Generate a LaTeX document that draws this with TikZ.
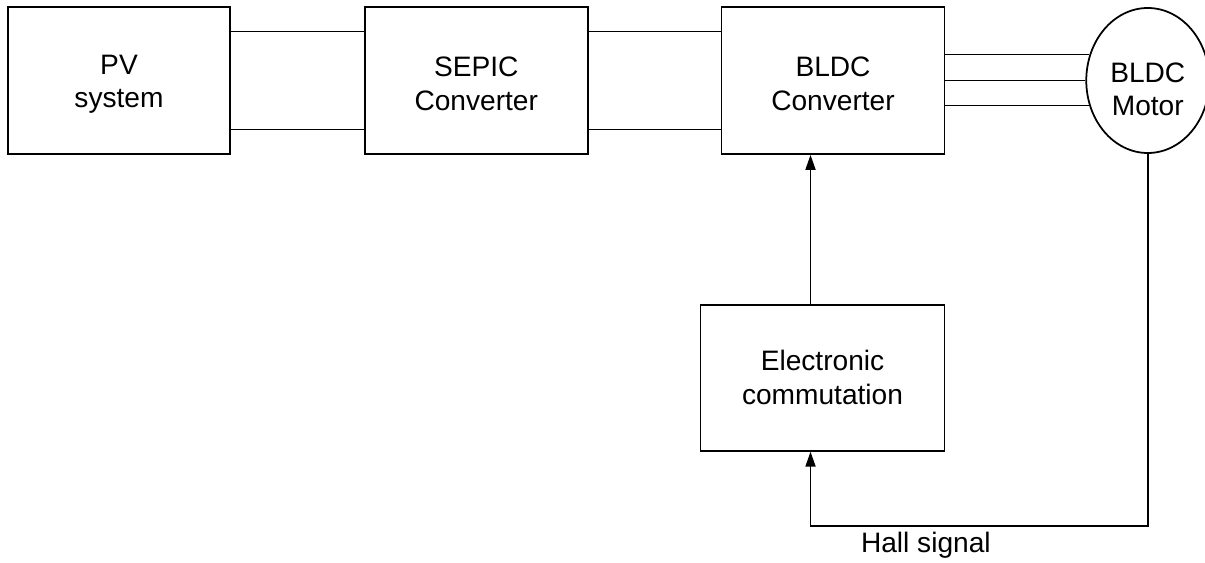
\documentclass[tikz,border=0pt]{standalone}
\usepackage{fontspec}
\setmainfont{Liberation Sans}
\usetikzlibrary{shapes.geometric,arrows.meta,positioning,calc}
\tikzset{
    textpos/.style 2 args={execute at begin node={\rule[-#2]{0pt}{\dimexpr#1+#2\relax}}},
    block/.style={
        rectangle, draw=black, line width=1pt,
        minimum width=4.46cm, minimum height=2.94cm,
        align=center, font=\fontsize{16}{19}\selectfont, textpos={34pt}{0pt}
    },
    machine/.style={
        ellipse, draw=black, line width=1pt, inner sep=0pt,
        minimum width=2.46cm, minimum height=2.9cm,
        align=center, font=\fontsize{16}{19}\selectfont, textpos={40.5pt}{0pt}
    },
    wire/.style={draw, line width=1pt},
    sig/.style={-{Triangle[length=3mm,width=2mm]}, line width=1pt}
}

\begin{document}
\begin{tikzpicture}[node distance=2.66cm]
\useasboundingbox (0,0) rectangle (24.1,-11.26);

% Power path
\node[block, minimum width=4.44cm, textpos={32.5pt}{0pt}] (pv) at (2.38,-1.61) {PV\\system};
\node[block, right=of pv]   (sepic) {SEPIC\\Converter};
\node[block, right=2.64cm of sepic] (conv) {BLDC\\Converter};
\node[machine, right=2.8cm of conv] (motor) {BLDC\\Motor};

% Control
\node[block, minimum width=4.88cm, minimum height=2.92cm, textpos={0pt}{4pt},
      below=2.98cm of conv.south east, anchor=north east] (ec)
    {Electronic\\commutation};

% DC links
\draw[wire] ([yshift=0.98cm]pv.east)   -- ([yshift=0.98cm]sepic.west);
\draw[wire] ([yshift=-0.98cm]pv.east)  -- ([yshift=-0.98cm]sepic.west);
\draw[wire] ([yshift=0.98cm]sepic.east)  -- ([yshift=0.98cm]conv.west);
\draw[wire] ([yshift=-0.98cm]sepic.east) -- ([yshift=-0.98cm]conv.west);

% Three phases
\foreach \a in {156.6,180,203.4}
    \draw[wire] (conv.east |- motor.\a) -- (motor.\a);

% Gate signals and feedback
\coordinate (tap) at ([xshift=-0.45cm]conv.south);
\draw[sig] (tap |- ec.north) -- (tap);
\path (tap |- ec.south) ++(0,-1.48) coordinate (hall);
\draw[sig] (motor.south) |- node[pos=0.829, below, font=\fontsize{16}{19}\selectfont] {Hall signal} (hall) -- (tap |- ec.south);

\end{tikzpicture}
\end{document}
